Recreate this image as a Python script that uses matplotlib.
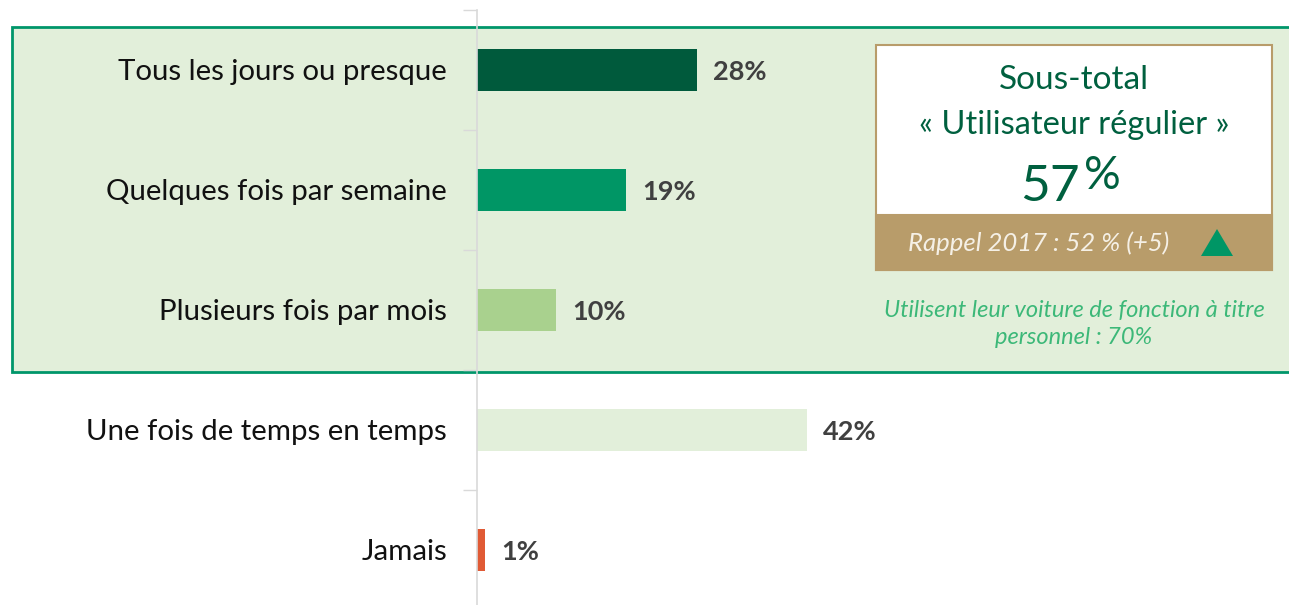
import matplotlib.pyplot as plt
from matplotlib.patches import Rectangle, Polygon

plt.rcParams["font.family"] = ["Lato", "DejaVu Sans"]

# Data
categories = ["Tous les jours ou presque", "Quelques fois par semaine",
              "Plusieurs fois par mois", "Une fois de temps en temps", "Jamais"]
values = [28, 19, 10, 42, 1]
bar_colors = ["#005a3c", "#009665", "#a9d18e", "#e2efda", "#e05a35"]

subtotal_title = "Sous-total"
subtotal_name = "« Utilisateur régulier »"
subtotal_number = "57"
reminder = "Rappel 2017 : 52 % (+5)"
footnote = "Utilisent leur voiture de fonction à titre\npersonnel : 70%"

W, H = 1289, 605
fig = plt.figure(figsize=(W / 100, H / 100), dpi=100)


def fx(x):
    return x / W


def fy(y):
    return 1 - y / H


# green band behind the first three categories
fig.patches.append(Rectangle((fx(12), fy(372)), fx(1300) - fx(12), fy(27) - fy(372),
                             transform=fig.transFigure, facecolor="#e2efda",
                             edgecolor="#00966a", linewidth=2, zorder=0))

ax = fig.add_axes([fx(477), fy(610), fx(W) - fx(477), fy(10) - fy(610)])
ax.set_facecolor("none")
ax.set_zorder(1)

y = range(len(categories))
ax.barh(y, values, height=0.35, color=bar_colors, zorder=2)
ax.set_xlim(0, (W - 477) / 7.85)
ax.set_ylim(len(categories) - 0.5, -0.5)

for i, v in enumerate(values):
    ax.text(v + 2.1, i + 0.02, f"{v}%", va="center", ha="left", fontsize=19.5,
            fontweight="bold", color="#404040")

ax.set_yticks([i - 0.5 for i in range(len(categories) + 1)])
ax.set_yticklabels([])
ax.tick_params(axis="y", length=10, color="#d9d9d9", width=1)
for i, c in enumerate(categories):
    ax.annotate(c, xy=(0, i + 0.015), xytext=(-21.6, 0), textcoords="offset points",
                ha="right", va="center", fontsize=21.2, color="#111111")
ax.set_xticks([])
for s in ["top", "right", "bottom"]:
    ax.spines[s].set_visible(False)
ax.spines["left"].set_color("#d9d9d9")
ax.spines["left"].set_linewidth(1.2)

# sub-total box
fig.patches.append(Rectangle((fx(876), fy(270)), fx(1272) - fx(876), fy(45) - fy(270),
                             transform=fig.transFigure, facecolor="white",
                             edgecolor="#b89c6a", linewidth=1.5, zorder=3))
fig.patches.append(Rectangle((fx(876), fy(270)), fx(1272) - fx(876), fy(215) - fy(270),
                             transform=fig.transFigure, facecolor="#b89c6a",
                             edgecolor="#b89c6a", linewidth=1.5, zorder=3))
fig.patches.append(Polygon([(fx(1201), fy(256)), (fx(1233), fy(256)), (fx(1217), fy(229))],
                           closed=True, transform=fig.transFigure,
                           facecolor="#009665", edgecolor="none", zorder=4))

fig.text(fx(1074), fy(80), subtotal_title, ha="center", va="center", fontsize=24,
         color="#00603f", zorder=5)
fig.text(fx(1074), fy(125), subtotal_name, ha="center", va="center", fontsize=23.5,
         color="#00603f", zorder=5)
fig.text(fx(1080), fy(187), subtotal_number, ha="right", va="center", fontsize=37,
         color="#00603f", zorder=5)
fig.text(fx(1084), fy(176), "%", ha="left", va="center", fontsize=33,
         color="#00603f", zorder=5)
fig.text(fx(1039), fy(243), reminder, ha="center", va="center", fontsize=18.5,
         style="italic", color="#f5f0e6", zorder=5)
fig.text(fx(1074), fy(324), footnote, ha="center", va="center", fontsize=17,
         style="italic", color="#3cb878", linespacing=1.3, zorder=5)

fig.savefig("out.png", dpi=100)
